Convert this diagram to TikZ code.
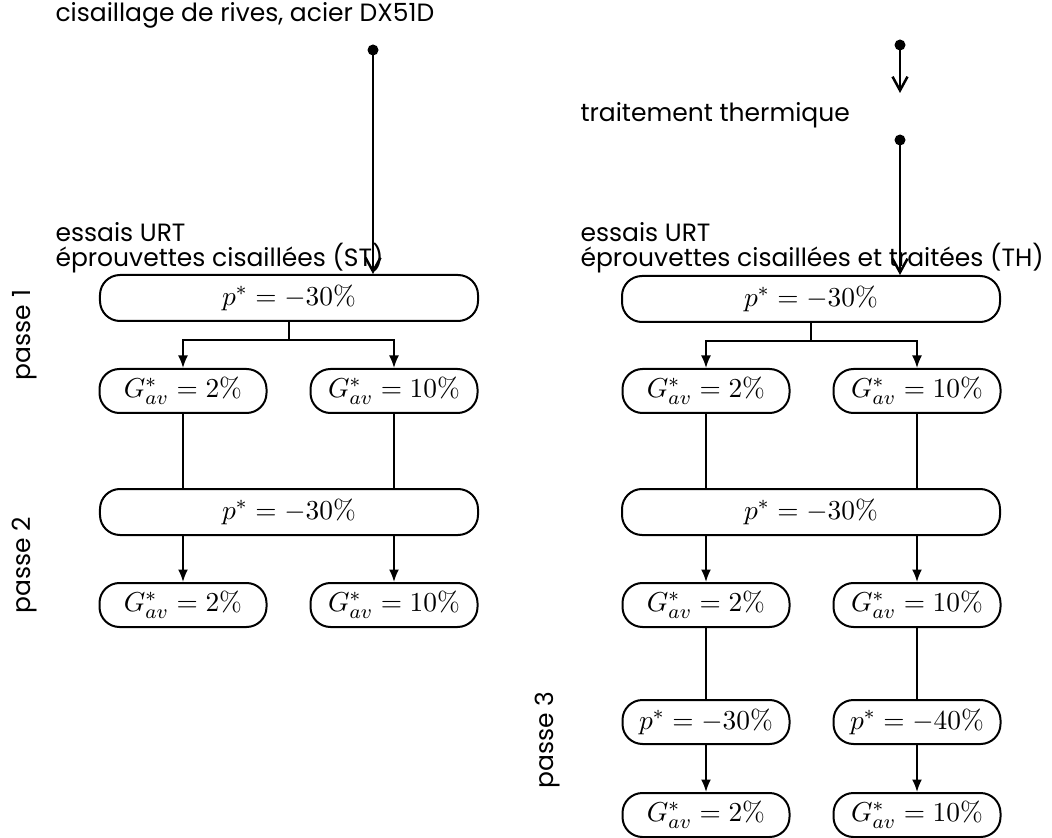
\documentclass[tikz,border=0pt,11pt]{standalone}
\usepackage[no-math]{fontspec}
\usepackage{amsmath}
\usepackage{tikz}
\usetikzlibrary{calc,arrows.meta,positioning}
\newfontfamily\labelfont{Poppins}
\tikzset{
  bigbox/.style={draw, line width=0.8pt, rounded corners=8pt, minimum width=151.2pt, minimum height=18.4pt, inner sep=0pt},
  smallbox/.style={draw, line width=0.8pt, rounded corners=8pt, minimum width=66.8pt, minimum height=17.6pt, inner sep=0pt},
  txt/.style={font=\labelfont\small, anchor=west, inner sep=0pt},
  passe/.style={font=\labelfont\small, rotate=90, inner sep=0pt},
  link/.style={line width=0.7pt},
  flow/.style={line width=0.7pt, -{Latex[length=5pt,width=4pt]}},
  start/.style={line width=1pt, -{Straight Barb[length=5.5pt,width=6pt,line width=1pt]}}
}
\begin{document}
\begin{tikzpicture}[x=0.4pt, y=-0.4pt]
\useasboundingbox (0,0) rectangle (1052,838);
% left column : sheared specimens
\node[txt] (titleL) at (55,15) {cisaillage de rives, acier DX51D};
\coordinate (sL) at (373,50);
\node[txt] (essL1) at (55,232) {essais URT};
\node[txt] (essL2) at (55,258) {éprouvettes cisaillées (ST)};
\node[bigbox] (p1L) at (289,298) {$p^* = -30\%$};
\node[smallbox] (g1La) at (183,391) {$G^*_{av} = 2\%$};
\node[smallbox] (g1Lb) at (394,391) {$G^*_{av} = 10\%$};
\node[bigbox] (p2L) at (289,512) {$p^* = -30\%$};
\node[smallbox] (g2La) at (183,605) {$G^*_{av} = 2\%$};
\node[smallbox] (g2Lb) at (394,605) {$G^*_{av} = 10\%$};
\node[passe] (pa1) at (25,335) {passe 1};
\node[passe] (pa2) at (25,565) {passe 2};
\fill (sL) circle (2.2pt);
\draw[start] (sL) -- (sL |- p1L.north);
\coordinate (jL) at ($(p1L.south)+(0,18)$);
\draw[link] (p1L.south) -- (jL);
\draw[flow] (jL) -| (g1La.north);
\draw[flow] (jL) -| (g1Lb.north);
\draw[link] (g1La.south) -- (g1La.south |- p2L.north);
\draw[link] (g1Lb.south) -- (g1Lb.south |- p2L.north);
\draw[flow] (p2L.south -| g2La) -- (g2La.north);
\draw[flow] (p2L.south -| g2Lb) -- (g2Lb.north);
% right column : sheared and heat treated specimens
\coordinate (tA) at (900,45);
\coordinate (tAend) at (900,93);
\node[txt] (treat) at (580,115) {traitement thermique};
\coordinate (tB) at (900,140);
\node[txt] (essR1) at (580,232) {essais URT};
\node[txt] (essR2) at (580,258) {éprouvettes cisaillées et traitées (TH)};
\node[bigbox] (p1R) at (811,299) {$p^* = -30\%$};
\node[smallbox] (g1Ra) at (706,391) {$G^*_{av} = 2\%$};
\node[smallbox] (g1Rb) at (917,391) {$G^*_{av} = 10\%$};
\node[bigbox] (p2R) at (811,512) {$p^* = -30\%$};
\node[smallbox] (g2Ra) at (706,605) {$G^*_{av} = 2\%$};
\node[smallbox] (g2Rb) at (917,605) {$G^*_{av} = 10\%$};
\node[smallbox] (p3Ra) at (706,722) {$p^* = -30\%$};
\node[smallbox] (p3Rb) at (917,722) {$p^* = -40\%$};
\node[smallbox] (g3Ra) at (706,815) {$G^*_{av} = 2\%$};
\node[smallbox] (g3Rb) at (917,815) {$G^*_{av} = 10\%$};
\node[passe] (pa3) at (548,740) {passe 3};
\fill (tA) circle (2.2pt);
\draw[start] (tA) -- (tAend);
\fill (tB) circle (2.2pt);
\draw[start] (tB) -- (tB |- p1R.north);
\coordinate (jR) at ($(p1R.south)+(0,18)$);
\draw[link] (p1R.south) -- (jR);
\draw[flow] (jR) -| (g1Ra.north);
\draw[flow] (jR) -| (g1Rb.north);
\draw[link] (g1Ra.south) -- (g1Ra.south |- p2R.north);
\draw[link] (g1Rb.south) -- (g1Rb.south |- p2R.north);
\draw[flow] (p2R.south -| g2Ra) -- (g2Ra.north);
\draw[flow] (p2R.south -| g2Rb) -- (g2Rb.north);
\draw[link] (g2Ra.south) -- (p3Ra.north);
\draw[link] (g2Rb.south) -- (p3Rb.north);
\draw[flow] (p3Ra.south) -- (g3Ra.north);
\draw[flow] (p3Rb.south) -- (g3Rb.north);
\end{tikzpicture}
\end{document}
